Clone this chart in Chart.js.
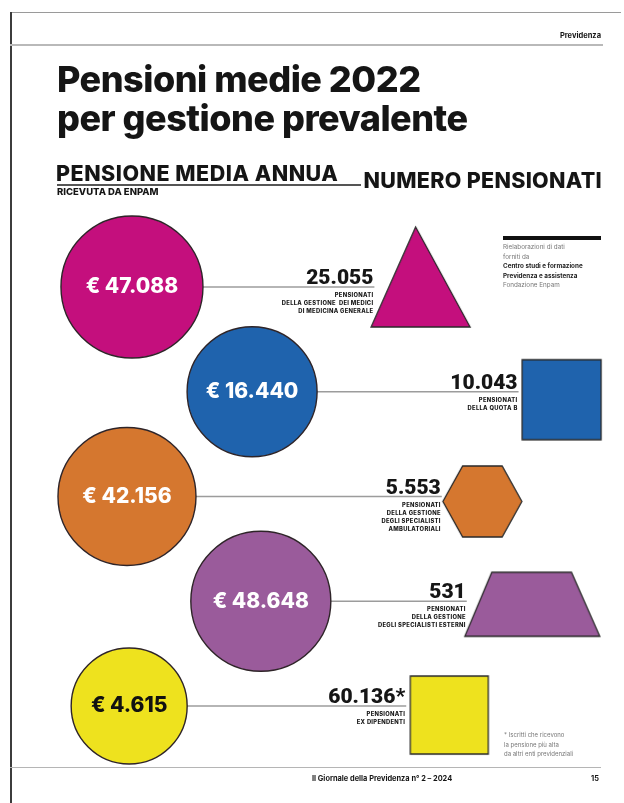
<!DOCTYPE html>
<html>
<head>
<meta charset="utf-8">
<script src="https://cdn.jsdelivr.net/npm/chart.js@4.4.1/dist/chart.umd.min.js"></script>
<style>
  body { margin: 0; background: #fff; }
  #page { position: relative; width: 624px; height: 803px; overflow: hidden; font-family: Inter, "Noto Sans", sans-serif; color: #151515; }
  #page canvas { position: absolute; left: 0; top: 0; }
  .abs { position: absolute; white-space: nowrap; }
  .rule { position: absolute; }
</style>
</head>
<body>
<div id="page">
  <canvas id="chart" width="624" height="803"></canvas>

  <div class="rule" style="left:10px;top:12px;width:611px;height:1px;background:#9a9a9a"></div>
  <div class="rule" style="left:10px;top:12px;width:1.5px;height:791px;background:#3c3c3c"></div>

  <div class="abs" style="right:23px;top:31px;font-size:7.5px;font-weight:700">Previdenza</div>
  <div class="rule" style="left:10px;top:44px;width:593px;height:2px;background:#b9b9b9"></div>

  <div class="abs" style="left:57px;top:60px;font-size:36px;line-height:39px;font-weight:800;letter-spacing:-0.5px">Pensioni medie 2022<br>per gestione prevalente</div>

  <div class="abs" style="left:56px;top:160px;font-size:21.5px;font-weight:800;letter-spacing:0.5px">PENSIONE MEDIA ANNUA</div>
  <div class="rule" style="left:57px;top:184px;width:304px;height:1.5px;background:#555"></div>
  <div class="abs" style="left:57px;top:186px;font-size:9.5px;font-weight:800">RICEVUTA DA ENPAM</div>
  <div class="abs" style="right:22px;top:167px;font-size:21.5px;font-weight:800;letter-spacing:0.3px">NUMERO PENSIONATI</div>

  <div class="rule" style="left:503px;top:236px;width:98px;height:3.5px;background:#111"></div>
  <div class="abs" style="left:503px;top:243px;font-size:6.3px;line-height:9.6px;color:#777">
    Rielaborazioni di dati<br>forniti da<br>
    <span style="color:#222;font-weight:700">Centro studi e formazione<br>Previdenza e assistenza</span><br>
    Fondazione Enpam
  </div>

  <div class="abs" style="left:504px;top:730px;font-size:6px;line-height:9.5px;color:#777">
    * Iscritti che ricevono<br>la pensione più alta<br>da altri enti previdenziali
  </div>

  <div class="rule" style="left:10px;top:767px;width:591px;height:1px;background:#b5b5b5"></div>
  <div class="abs" style="left:312px;top:774px;font-size:7.4px;font-weight:700">Il Giornale della Previdenza n° 2 – 2024</div>
  <div class="abs" style="right:25px;top:774px;font-size:7.4px;font-weight:700">15</div>
</div>

<script>
// dati
const gestioni = ['Medicina generale', 'Quota B', 'Specialisti ambulatoriali', 'Specialisti esterni', 'Ex dipendenti'];
const pensioneMedia = [47088, 16440, 42156, 48648, 4615];
const numeroPensionati = [25055, 10043, 5553, 531, 60136];
const asterisco = ['', '', '', '', '*'];
const descrizioni = [
  ['PENSIONATI', 'DELLA GESTIONE  DEI MEDICI', 'DI MEDICINA GENERALE'],
  ['PENSIONATI', 'DELLA QUOTA B'],
  ['PENSIONATI', 'DELLA GESTIONE', 'DEGLI SPECIALISTI', 'AMBULATORIALI'],
  ['PENSIONATI', 'DELLA GESTIONE', 'DEGLI SPECIALISTI ESTERNI'],
  ['PENSIONATI', 'EX DIPENDENTI']
];

// stile
const colori = ['#c40f7d', '#1f63ad', '#d5772f', '#9a5b9b', '#eee21e'];
const coloreEtichetta = ['#fff', '#fff', '#fff', '#fff', '#111'];
const forme = ['triangle', 'square', 'hexagon', 'trapezoid', 'square'];

// layout (x in % della larghezza pagina)
const cerchioX = [21.15, 40.4, 20.35, 41.8, 20.7];
const cerchioR = [71, 65, 69, 70, 58];
const fineLineaX = [60, 83.1, 70.8, 74.8, 65.1];
const formaX = [67.4, 90, 77.3, 85.3, 72];
const formaW = [99, 79, 79, 135, 78];
const formaH = [100, 80, 71, 64, 78];
const formaDy = [-10, 8, 5, 3, 9];

const fmt = v => String(v).replace(/\B(?=(\d{3})+(?!\d))/g, '.');

function disegnaForma(kind, w, h, color, dy) {
  const c = document.createElement('canvas');
  c.width = w + 4;
  c.height = h + 4 + 2 * Math.abs(dy);
  const ctx = c.getContext('2d');
  const ox = 2, oy = c.height / 2 + dy - h / 2;
  ctx.beginPath();
  if (kind === 'triangle') {
    ctx.moveTo(ox + w * 0.45, oy);
    ctx.lineTo(ox + w, oy + h);
    ctx.lineTo(ox, oy + h);
  } else if (kind === 'hexagon') {
    ctx.moveTo(ox + w * 0.25, oy);
    ctx.lineTo(ox + w * 0.75, oy);
    ctx.lineTo(ox + w, oy + h / 2);
    ctx.lineTo(ox + w * 0.75, oy + h);
    ctx.lineTo(ox + w * 0.25, oy + h);
    ctx.lineTo(ox, oy + h / 2);
  } else if (kind === 'trapezoid') {
    ctx.moveTo(ox + w * 0.2, oy);
    ctx.lineTo(ox + w * 0.79, oy);
    ctx.lineTo(ox + w, oy + h);
    ctx.lineTo(ox, oy + h);
  } else {
    ctx.rect(ox, oy, w, h);
  }
  ctx.closePath();
  ctx.fillStyle = color;
  ctx.fill();
  ctx.lineWidth = 1.3;
  ctx.strokeStyle = '#2a2a2a';
  ctx.stroke();
  return c;
}

const immaginiForme = forme.map((f, i) => disegnaForma(f, formaW[i], formaH[i], colori[i], formaDy[i]));

const linee = gestioni.map((g, i) => ({
  type: 'line',
  data: [{ x: cerchioX[i], y: g }, { x: fineLineaX[i], y: g }],
  borderColor: '#9c9c9c',
  borderWidth: 1.5,
  pointRadius: 0,
  clip: false,
  order: 3
}));

const etichette = {
  id: 'etichette',
  afterDatasetsDraw(chart) {
    const ctx = chart.ctx;
    const cerchi = chart.getDatasetMeta(0).data;
    ctx.save();
    ctx.textBaseline = 'middle';
    ctx.textAlign = 'center';
    cerchi.forEach((p, i) => {
      ctx.font = '800 21px Inter';
      ctx.fillStyle = coloreEtichetta[i];
      ctx.fillText('€ ' + fmt(pensioneMedia[i]), p.x, p.y);
    });
    const xs = chart.scales.x, ys = chart.scales.y;
    gestioni.forEach((g, i) => {
      const x = xs.getPixelForValue(fineLineaX[i]);
      const y = ys.getPixelForValue(i);
      ctx.textAlign = 'right';
      ctx.textBaseline = 'alphabetic';
      ctx.fillStyle = '#161616';
      ctx.font = '900 21px Roboto';
      ctx.fillText(fmt(numeroPensionati[i]) + asterisco[i], x - 1, y - 3);
      ctx.font = '800 5.8px Inter';
      ctx.letterSpacing = '0.3px';
      descrizioni[i].forEach((t, k) => {
        ctx.fillText(t, x - 1, y + 10 + k * 8);
      });
      ctx.letterSpacing = '0px';
    });
    ctx.restore();
  }
};

new Chart(document.getElementById('chart'), {
  type: 'scatter',
  data: {
    datasets: [
      {
        data: gestioni.map((g, i) => ({ x: cerchioX[i], y: g })),
        pointRadius: cerchioR,
        pointBackgroundColor: colori,
        pointBorderColor: '#2e2428',
        pointBorderWidth: 1.4,
        clip: false,
        order: 1
      },
      {
        data: gestioni.map((g, i) => ({ x: formaX[i], y: g })),
        pointStyle: immaginiForme,
        pointRadius: 10,
        clip: false,
        order: 2
      },
      ...linee
    ]
  },
  options: {
    responsive: false,
    animation: false,
    events: [],
    layout: { autoPadding: false, padding: { top: 234.6, bottom: 44.6, left: 0, right: 0 } },
    scales: {
      x: { type: 'linear', min: 0, max: 100, display: false },
      y: { type: 'category', labels: gestioni, offset: true, display: false }
    },
    plugins: { legend: { display: false }, tooltip: { enabled: false } }
  },
  plugins: [etichette]
});
</script>
</body>
</html>
